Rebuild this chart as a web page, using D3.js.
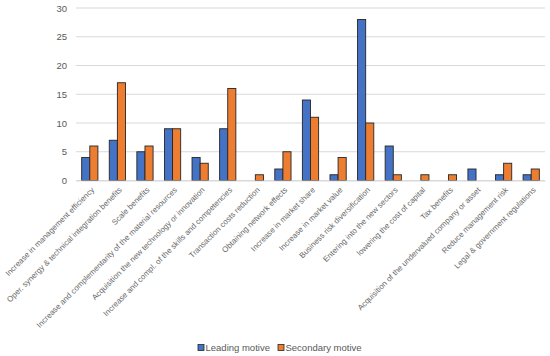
<!DOCTYPE html>
<html><head><meta charset="utf-8">
<script src="https://cdn.jsdelivr.net/npm/d3@7"></script>
<style>body{margin:0;background:#fff}svg{display:block}</style>
</head><body><svg id="c" width="550" height="356"></svg>
<script>
const categories = [
  "Increase in management efficiency",
  "Oper. synergy & technical integration benefits",
  "Scale benefits",
  "Increase and complementarity of the material resources",
  "Acquisition the new technology or innovation",
  "Increase and compl. of the skills and competencies",
  "Transaction costs reduction",
  "Obtaining network effects",
  "Increase in market share",
  "Increase in market value",
  "Business risk diversification",
  "Entering into the new sectors",
  "lowering the cost of capital",
  "Tax benefits",
  "Acquisition of the undervalued company or asset",
  "Reduce management risk",
  "Legal & government regulations"
];
const leading   = [4, 7, 5, 9, 4, 9, 0, 2, 14, 1, 28, 6, 0, 0, 2, 1, 1];
const secondary = [6, 17, 6, 9, 3, 16, 1, 5, 11, 4, 10, 1, 1, 1, 0, 3, 2];
const seriesNames = ["Leading motive", "Secondary motive"];
const yTicks = [0, 5, 10, 15, 20, 25, 30];
const colors = ["#4472C4", "#ED7D31"];

(function () {
const svg = d3.select("#c");
const font = "'Liberation Sans', Arial, sans-serif";
const pl = 76, pr = 545, pt = 8, pb = 180.5;

const x = d3.scaleBand().domain(categories).range([pl, pr]).paddingInner(0).paddingOuter(0);
const inner = d3.scaleBand().domain(seriesNames).range([0, x.bandwidth()]).paddingInner(0).paddingOuter(0.7);
const y = d3.scaleLinear().domain([0, 30]).range([pb, pt]);

svg.append("g").selectAll("line").data(yTicks).join("line")
  .attr("x1", pl).attr("x2", pr)
  .attr("y1", d => y(d)).attr("y2", d => y(d))
  .attr("stroke", "#d9d9d9").attr("stroke-width", 1);

const yAxis = d3.axisLeft(y).tickValues(yTicks).tickSize(0).tickPadding(0);
const gy = svg.append("g").attr("transform", `translate(${pl - 9},0)`).call(yAxis);
gy.select(".domain").remove();
gy.selectAll("text").attr("fill", "#595959").attr("font-family", font).attr("font-size", 9.5);

const data = categories.map((c, i) => ({c, vals: [leading[i], secondary[i]]}));
const groups = svg.append("g").selectAll("g").data(data).join("g")
  .attr("transform", d => `translate(${x(d.c)},0)`);
groups.selectAll("rect").data(d => d.vals.map((v, j) => ({v, j})).filter(e => e.v > 0)).join("rect")
  .attr("x", e => inner(seriesNames[e.j]))
  .attr("width", inner.bandwidth())
  .attr("y", e => y(e.v))
  .attr("height", e => y(0) - y(e.v))
  .attr("fill", e => colors[e.j])
  .attr("stroke", "#262626").attr("stroke-width", 0.9);

const xAxis = d3.axisBottom(x).tickSize(0).tickPadding(0);
const gx = svg.append("g").attr("transform", `translate(0,${pb})`).call(xAxis);
gx.select(".domain").attr("stroke", "#d9d9d9");
gx.selectAll("text")
  .attr("fill", "#666666").attr("font-family", font).attr("font-size", 7.9)
  .attr("text-anchor", "end")
  .attr("dy", null).attr("y", 0)
  .attr("transform", "translate(5,10) rotate(-45)");

const legX = [198, 278];
const leg = svg.append("g").selectAll("g").data(seriesNames).join("g")
  .attr("transform", (d, i) => `translate(${legX[i]},348)`);
leg.append("rect").attr("x", 0).attr("y", -3.5).attr("width", 6).attr("height", 6)
  .attr("fill", (d, i) => colors[i]).attr("stroke", "#262626").attr("stroke-width", 0.8);
leg.append("text").attr("x", 7.5).attr("y", 0).attr("dy", "0.35em")
  .attr("fill", "#595959").attr("font-family", font).attr("font-size", 9.5).text(d => d);
})();
</script></body></html>
